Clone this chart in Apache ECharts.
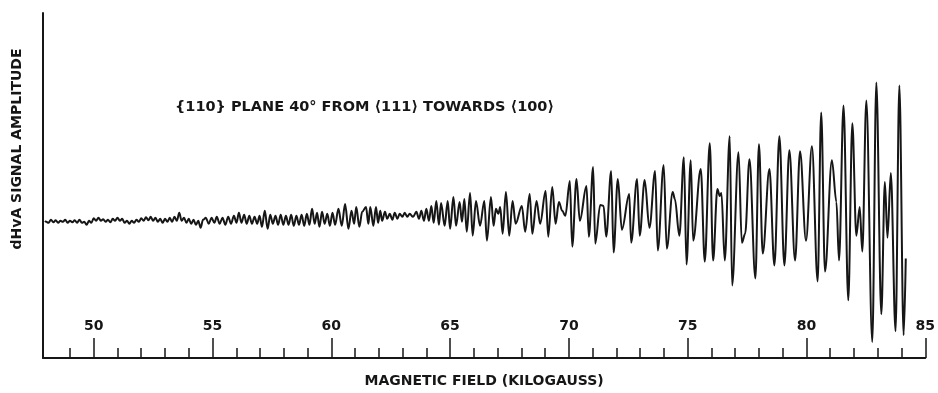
<!DOCTYPE html>
<html>
<head>
<meta charset="utf-8">
<title>dHvA signal</title>
<script src="https://cdn.jsdelivr.net/npm/echarts@6/dist/echarts.min.js"></script>
<style>
  html, body { margin: 0; padding: 0; background: #fff; }
  #chart { width: 938px; height: 393px; }
</style>
</head>
<body>
<div id="chart"></div>
<script>
// field axis (kilogauss)
const fieldMin = 47.865;
const fieldMax = 85;
const majorTicks = [50, 55, 60, 65, 70, 75, 80, 85];
const minorTicks = [49, 51, 52, 53, 54, 56, 57, 58, 59, 61, 62, 63, 64, 66, 67, 68, 69,
  71, 72, 73, 74, 76, 77, 78, 79, 81, 82, 83, 84];

// signal amplitude, arbitrary units, 0 = resting level of the trace
const ampMin = -138;
const ampMax = 209;

// [field kG, amplitude], one array per stretch
const traceLow = [
  [47.95, 0], [48.0, -1], [48.1, -2], [48.2, 1], [48.3, -1.5], [48.4, 0.5], [48.5, -2],
  [48.6, 0], [48.7, -1], [48.8, 1], [48.9, -2], [49.0, 0], [49.1, -1.5], [49.2, 0.5],
  [49.3, -2], [49.4, 1], [49.5, -2], [49.6, -1], [49.7, -4], [49.8, 0], [49.9, -2],
  [50.0, 2.5], [50.1, 0], [50.2, 3], [50.3, 0], [50.4, 1.5], [50.5, -1], [50.6, 1],
  [50.7, -1.5], [50.8, 2], [50.9, 0], [51.0, 3], [51.1, 0], [51.2, 2], [51.3, -2],
  [51.4, 0], [51.5, -3], [51.6, 0], [51.7, -2], [51.8, 1], [51.9, -1], [52.0, 2.5],
  [52.1, 0], [52.2, 3.5], [52.3, 0.5], [52.4, 4], [52.5, 0], [52.6, 3], [52.7, -1],
  [52.8, 2], [52.9, -2], [53.0, 2], [53.1, -1], [53.2, 3], [53.3, -1], [53.4, 4],
  [53.5, 0], [53.6, 8], [53.7, 0], [53.8, 3], [53.9, -2], [54.0, 2], [54.1, -3],
  [54.2, 1], [54.3, -4], [54.4, 0], [54.5, -7], [54.6, 1]
];

const traceMid = [
  [54.72, 3], [54.84, -3], [54.96, 3], [55.08, -2], [55.18, 4], [55.3, -3], [55.42, 3],
  [55.54, -4], [55.66, 4], [55.78, -3], [55.9, 5], [56.01, -2], [56.11, 8], [56.22, -2],
  [56.33, 6], [56.44, -3], [56.55, 5], [56.66, -3], [56.77, 4], [56.88, -3], [56.98, 5],
  [57.08, -6], [57.2, 10], [57.32, -8], [57.43, 6], [57.54, -3], [57.65, 5], [57.76, -4],
  [57.87, 6], [57.98, -4], [58.09, 5], [58.2, -4], [58.31, 6], [58.42, -5], [58.53, 5],
  [58.64, -4], [58.75, 6], [58.86, -5], [58.97, 7], [59.08, -4], [59.19, 12], [59.3, -3],
  [59.4, 8], [59.5, -6], [59.61, 9], [59.72, -3], [59.83, 7], [59.94, -5], [60.05, 8],
  [60.16, -4], [60.3, 12], [60.44, -5], [60.58, 17], [60.72, -8], [60.85, 10], [60.96, -3],
  [61.05, 14], [61.18, -6], [61.3, 9]
];

const traceRise = [
  [61.46, 14], [61.56, -3], [61.64, 14], [61.77, -5], [61.88, 14], [61.97, -2],
  [62.06, 10], [62.14, 0], [62.26, 9], [62.35, 2], [62.46, 7], [62.57, 1], [62.67, 8],
  [62.78, 2], [62.88, 7], [62.99, 4], [63.09, 8], [63.2, 4], [63.3, 7], [63.44, 4],
  [63.58, 9], [63.69, 2], [63.79, 10], [63.9, 0], [64.0, 12], [64.11, 0], [64.21, 15],
  [64.31, -2], [64.42, 20], [64.53, -4], [64.62, 18], [64.77, -5], [64.9, 20], [65.0, -8],
  [65.14, 24], [65.25, -5], [65.4, 19], [65.5, -1], [65.6, 22], [65.7, -11], [65.84, 28],
  [65.95, -15], [66.09, 20], [66.26, -5]
];

const traceGrow = [
  [66.44, 20], [66.55, -20], [66.72, 24], [66.83, -5], [66.93, 12], [67.03, 7],
  [67.11, 14], [67.21, -13], [67.35, 29], [67.49, -15], [67.63, 20], [67.76, -3],
  [68.02, 15], [68.16, -11], [68.35, 27], [68.46, -13], [68.64, 20], [68.79, -3],
  [69.02, 30], [69.13, -16], [69.3, 34], [69.44, -3], [69.58, 19], [69.72, 10],
  [69.85, 5], [70.04, 40], [70.14, -26], [70.32, 42], [70.46, 0]
];

const traceLarge = [
  [70.74, 35], [70.84, -16], [71.02, 54], [71.11, -23], [71.32, 16], [71.46, 15],
  [71.57, -16], [71.78, 50], [71.88, -32], [72.06, 42], [72.23, -9], [72.54, 27],
  [72.62, -22], [72.87, 42], [72.98, -15], [73.19, 41], [73.39, -7], [73.63, 50],
  [73.74, -30], [73.99, 56], [74.12, -28], [74.37, 29], [74.46, 22], [74.65, -15],
  [74.84, 64], [74.95, -44], [75.13, 61], [75.23, -20], [75.55, 52], [75.72, -41],
  [75.93, 78], [76.07, -40], [76.25, 32], [76.35, 25], [76.42, 28], [76.56, -40],
  [76.77, 85], [76.87, -65], [77.14, 69], [77.28, -22], [77.42, -13], [77.6, 62],
  [77.85, -58], [78.0, 77], [78.16, -33], [78.44, 52], [78.65, -45]
];

const traceTop = [
  [78.86, 85], [79.07, -45], [79.28, 71], [79.52, -40], [79.73, 70], [79.98, -20],
  [80.23, 75], [80.47, -61], [80.62, 109], [80.78, -51], [81.07, 61], [81.26, 19],
  [81.37, -40], [81.56, 116], [81.76, -80], [81.93, 98], [82.1, -15], [82.24, 14],
  [82.35, -31], [82.52, 121], [82.77, -122], [82.94, 139], [83.15, -94], [83.3, 39],
  [83.41, -17], [83.55, 48], [83.75, -111], [83.91, 136], [84.09, -115], [84.18, -38]
];

const trace = [].concat(traceLow, traceMid, traceRise, traceGrow, traceLarge, traceTop);

const FONT = 'DejaVu Sans';
const INK = '#161616';

const chart = echarts.init(document.getElementById('chart'), null, { renderer: 'canvas' });

const option = {
  backgroundColor: '#fff',
  animation: false,
  title: {
    text: '{110} PLANE 40° FROM ⟨111⟩ TOWARDS ⟨100⟩',
    left: 170,
    top: 95,
    textStyle: { fontFamily: FONT, fontSize: 14.5, fontWeight: 'bold', color: INK }
  },
  grid: { left: 43, right: 8, top: 13, bottom: 33 },
  xAxis: [
    {
      type: 'value',
      min: fieldMin,
      max: fieldMax,
      position: 'bottom',
      name: 'MAGNETIC FIELD (KILOGAUSS)',
      nameLocation: 'middle',
      nameGap: 16,
      nameTextStyle: { fontFamily: FONT, fontSize: 14, fontWeight: 'bold', color: INK, verticalAlign: 'top' },
      axisLine: { onZero: false, lineStyle: { color: INK, width: 2 } },
      axisTick: { inside: true, length: 20, customValues: majorTicks, lineStyle: { color: INK, width: 1.5 } },
      axisLabel: {
        inside: true, customValues: majorTicks, margin: 25,
        fontFamily: FONT, fontSize: 14, fontWeight: 'bold', color: INK
      },
      splitLine: { show: false }
    },
    {
      type: 'value',
      min: fieldMin,
      max: fieldMax,
      position: 'bottom',
      axisLine: { show: false, onZero: false },
      axisTick: { inside: true, length: 10, customValues: minorTicks, lineStyle: { color: INK, width: 1.5 } },
      axisLabel: { show: false },
      splitLine: { show: false }
    }
  ],
  yAxis: {
    type: 'value',
    min: ampMin,
    max: ampMax,
    axisLine: { show: true, onZero: false, lineStyle: { color: INK, width: 2 } },
    axisTick: { show: false },
    axisLabel: { show: false },
    splitLine: { show: false }
  },
  graphic: [
    {
      type: 'text',
      x: 17,
      y: 149,
      rotation: Math.PI / 2,
      style: {
        text: 'dHvA SIGNAL AMPLITUDE',
        fontFamily: FONT,
        fontSize: 14,
        fontWeight: 'bold',
        fill: INK,
        align: 'center',
        verticalAlign: 'middle'
      }
    }
  ],
  series: [
    {
      type: 'line',
      xAxisIndex: 0,
      data: trace,
      showSymbol: false,
      smooth: 0.35,
      smoothMonotone: 'x',
      lineStyle: { color: INK, width: 2 }
    }
  ]
};

chart.setOption(option);
</script>
</body>
</html>
